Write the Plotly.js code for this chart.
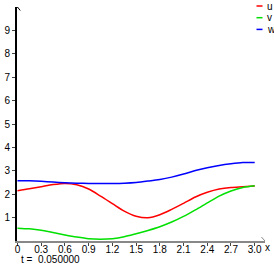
<!DOCTYPE html>
<html>
<head>
<meta charset="utf-8">
<script src="https://cdn.plot.ly/plotly-3.0.1.min.js"></script>
<style>html,body{margin:0;padding:0;background:#fff;}#chart{width:274px;height:265px;}</style>
</head>
<body>
<div id="chart"></div>
<script>
var xs = [0, 0.15, 0.3, 0.45, 0.6, 0.75, 0.9, 1.05, 1.2, 1.35, 1.5, 1.65, 1.8, 1.95, 2.1, 2.25, 2.4, 2.55, 2.7, 2.85, 3.0];
var uVals = [2.15, 2.23, 2.32, 2.41, 2.46, 2.40, 2.22, 1.92, 1.60, 1.28, 1.06, 0.99, 1.12, 1.35, 1.61, 1.88, 2.08, 2.22, 2.29, 2.32, 2.35];
var vVals = [0.55, 0.52, 0.46, 0.36, 0.26, 0.17, 0.10, 0.08, 0.10, 0.18, 0.31, 0.45, 0.61, 0.81, 1.05, 1.33, 1.63, 1.92, 2.14, 2.29, 2.36];
var wVals = [2.58, 2.57, 2.55, 2.52, 2.49, 2.47, 2.46, 2.46, 2.46, 2.47, 2.50, 2.56, 2.63, 2.73, 2.86, 3.01, 3.13, 3.23, 3.30, 3.35, 3.36];
var seriesNames = ['u', 'v', 'w'];
var seriesColors = ['#ff0000', '#00e000', '#0000ff'];
var xTickVals = [0, 0.3, 0.6, 0.9, 1.2, 1.5, 1.8, 2.1, 2.4, 2.7, 3.0];
var xTickText = ['0', '0.3', '0.6', '0.9', '1.2', '1.5', '1.8', '2.1', '2.4', '2.7', '3.0'];
var yTickVals = [1, 2, 3, 4, 5, 6, 7, 8, 9];
var timeLabel = 't =  0.050000';

var F = 'Liberation Sans, Arial, sans-serif';
var allVals = [uVals, vVals, wVals];
var traces = allVals.map(function (vals, i) {
  return {x: xs, y: vals, type: 'scatter', mode: 'lines', name: seriesNames[i],
    line: {color: seriesColors[i], width: 1.5, shape: 'spline', smoothing: 0.8}, showlegend: false};
});

var shapes = [
  {type: 'path', xref: 'x', yref: 'y', path: 'M3.085,0.17 L3.13,0 L3.085,-0.17', line: {color: '#888', width: 1}},
  {type: 'path', xref: 'x', yref: 'y', path: 'M-0.035,9.85 L0,10 L0.035,9.85', line: {color: '#000', width: 1}}
];
var annotations = [
  {xref: 'paper', yref: 'paper', x: (267 - 17) / 248, y: (241 - 248) / 234, text: 'x', showarrow: false, xanchor: 'center', yanchor: 'middle', font: {family: F, size: 10, color: '#000'}},
  {xref: 'paper', yref: 'paper', x: (19 - 17) / 248, y: (241 - 259) / 234, text: timeLabel, showarrow: false, xanchor: 'left', yanchor: 'middle', font: {family: F, size: 10, color: '#000'}}
];
seriesNames.forEach(function (n, i) {
  var py = 6 + i * 11.7;
  shapes.push({type: 'line', xref: 'paper', yref: 'paper',
    x0: (256.5 - 17) / 248, x1: (262.5 - 17) / 248,
    y0: (241 - py) / 234, y1: (241 - py) / 234,
    line: {color: seriesColors[i], width: 1.5}});
  annotations.push({xref: 'paper', yref: 'paper', x: (264.5 - 17) / 248, y: (241 - py) / 234,
    text: n, showarrow: false, xanchor: 'left', yanchor: 'middle',
    font: {family: F, size: 10, color: '#000'}});
});

var layout = {
  width: 274, height: 265,
  margin: {l: 17, r: 9, t: 7, b: 24, pad: 0},
  paper_bgcolor: '#fff', plot_bgcolor: '#fff',
  showlegend: false,
  font: {family: F, size: 10, color: '#000'},
  xaxis: {range: [-0.006, 3.13], showgrid: false, zeroline: false, showline: true,
    linecolor: '#888', linewidth: 2, ticks: 'outside', ticklen: 3, tickcolor: '#444', tickwidth: 1,
    ticklabelstandoff: -5,
    tickvals: xTickVals, ticktext: xTickText, tickfont: {family: F, size: 10, color: '#000'}, fixedrange: true},
  yaxis: {range: [0, 10], showgrid: false, zeroline: false, showline: true,
    linecolor: '#000', linewidth: 2, ticks: 'outside', ticklen: 3, tickcolor: '#444', tickwidth: 1,
    tickvals: yTickVals, tickfont: {family: F, size: 10, color: '#000'}, fixedrange: true},
  shapes: shapes,
  annotations: annotations
};
Plotly.newPlot('chart', traces, layout, {displayModeBar: false, staticPlot: true});
</script>
</body>
</html>
